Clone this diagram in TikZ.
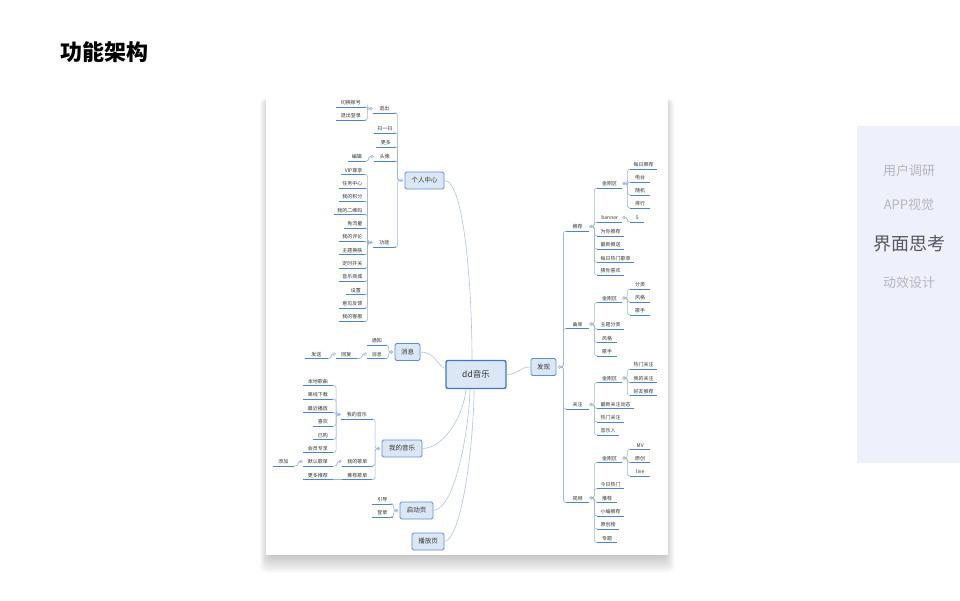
\documentclass[tikz,border=0pt]{standalone}
\usepackage{fontspec}
\setmainfont{Noto Sans CJK SC}
\definecolor{txt}{HTML}{333333}
\definecolor{ulc}{HTML}{4A84D2}
\definecolor{brc}{HTML}{9DB8DE}
\definecolor{crv}{HTML}{AFC5E4}
\definecolor{boxf}{HTML}{DCE7F5}
\definecolor{boxd}{HTML}{5C8FD6}
\definecolor{ctrd}{HTML}{3E78C9}
\definecolor{panel}{HTML}{EEF0FC}
\definecolor{navg}{HTML}{B5B5BD}
\definecolor{navd}{HTML}{56565F}
\begin{document}
\begin{tikzpicture}[x=1pt,y=-1pt,
  uline/.style={draw=ulc, line width=0.9pt},
  lf/.style={font=\fontsize{5}{6}\selectfont, text=txt, inner xsep=3.5pt, inner ysep=1.8pt,
     append after command={(\tikzlastnode.south west) edge[uline] (\tikzlastnode.south east)}},
  leafr/.style={lf, anchor=south west},
  leafl/.style={lf, anchor=south east},
  brk/.style={draw=brc, line width=0.6pt, rounded corners=2.5pt},
  crvline/.style={draw=crv, line width=0.6pt},
  hub/.style={circle, draw=brc, fill=white, line width=0.5pt, inner sep=0pt, minimum size=3pt},
  mbox/.style={draw=boxd, fill=boxf, rounded corners=1.5pt, line width=0.9pt, font=\fontsize{6.5}{7}\selectfont, text=txt, inner sep=0pt, minimum height=17pt},
  navtext/.style={font=\fontsize{13}{14}\selectfont, text=navg},
]
\useasboundingbox (0,0) rectangle (960,600);
\fill[white] (0,0) rectangle (960,600);

% title
\node[anchor=west, font=\fontsize{22}{24}\selectfont\bfseries, text=black] (title) at (57,52) {功能架构};

% right navigation panel
\fill[panel] (857,126) rectangle (960,463);
\node[navtext] (nav1) at (909,171) {用户调研};
\node[navtext] (nav2) at (909,205) {APP视觉};
\node[navtext, font=\fontsize{18}{19}\selectfont, text=navd] (nav3) at (909,244) {界面思考};
\node[navtext] (nav4) at (909,283) {动效设计};

% mind map sheet with soft shadow (stacked layers)
\foreach \i in {1,...,10}
  \fill[black, opacity=0.025, rounded corners=5pt] (270-\i,99) rectangle (664+\i,553+2*\i);
\fill[white] (266,95) rectangle (668,555);

% ---- main boxes
\node[mbox, minimum width=60pt, minimum height=28pt, line width=1.4pt, draw=ctrd, rounded corners=2pt, font=\fontsize{8.5}{9}\selectfont] (dd) at (476,374.5) {dd音乐};
\node[mbox, minimum width=39pt] (grzx) at (424.5,180.5) {个人中心};
\node[mbox, minimum width=25pt] (xx) at (407.5,352) {消息};
\node[mbox, minimum width=40pt] (wdyyb) at (402,448.5) {我的音乐};
\node[mbox, minimum width=33pt] (qdy) at (416.5,510.5) {启动页};
\node[mbox, minimum width=32pt] (bfy) at (428,541.5) {播放页};
\node[mbox, minimum width=25pt] (fx) at (543.5,367) {发现};

% ---- curves from the centre
\draw[crvline] (grzx.east) .. controls +(20,0) and +(0,-70) .. ([xshift=-4pt]dd.north);
\draw[crvline] (xx.east) .. controls +(14,0) and +(-8,-3) .. ([yshift=6pt]dd.west);
\draw[crvline] (wdyyb.east) .. controls +(22,0) and +(-2,25) .. ([xshift=-10pt]dd.south);
\draw[crvline] (qdy.east) .. controls +(22,-2) and +(-1,40) .. ([xshift=-6pt]dd.south);
\draw[crvline] (bfy.east) .. controls +(18,-3) and +(0,50) .. ([xshift=-2pt]dd.south);
\draw[crvline] (dd.east) .. controls +(12,0) and +(-12,0) .. (fx.west);

% ---- hubs of main boxes
\node[hub] (h-grzx) at ([xshift=-3pt]grzx.west) {};
\node[hub] (h-xx) at ([xshift=-3pt]xx.west) {};
\node[hub] (h-wdyyb) at ([xshift=-3pt]wdyyb.west) {};
\node[hub] (h-qdy) at ([xshift=-3pt]qdy.west) {};
\node[hub] (h-fx) at ([xshift=3pt]fx.east) {};

% ================= 个人中心
\node[leafl, minimum width=23pt] (tc) at (396,113) {退出};
\node[leafl, minimum width=21pt] (sys) at (396,133) {扫一扫};
\node[leafl, minimum width=20pt] (gd) at (396,147) {更多};
\node[leafl, minimum width=22pt] (tx) at (396,161) {头像};
\node[leafl, minimum width=23pt] (gn) at (396,247) {功能};
\foreach \c in {tc,sys,gd,tx,gn}
  \draw[brk] (h-grzx) -- ++(-4,0) |- (\c.south east);

\node[hub] (h-tc) at ([xshift=-1.5pt,yshift=4.5pt]tc.south west) {};
\node[hub] (h-tx) at ([xshift=-1.5pt,yshift=4.5pt]tx.south west) {};
\node[hub] (h-gn) at ([xshift=-1.5pt,yshift=4.5pt]gn.south west) {};

\node[leafl, minimum width=30pt] (qhzh) at (366,107) {切换账号};
\node[leafl, minimum width=30pt] (tcdl) at (366,120) {退出登录};
\foreach \c in {qhzh,tcdl}
  \draw[brk] (h-tc) -- ++(-3.5,0) |- (\c.south east);

\node[leafl, minimum width=18pt] (bj) at (366,161) {编辑};
\draw[brk] (h-tx) -- ++(-3.5,0) |- (bj.south east);

\node[leafl] (g1) at (366,174.5) {VIP尊享};
\node[leafl] (g2) at (366,188) {任务中心};
\node[leafl] (g3) at (366,201.3) {我的积分};
\node[leafl] (g4) at (366,214.6) {我的二维码};
\node[leafl] (g5) at (366,228) {免流量};
\node[leafl] (g6) at (366,241.3) {我的评论};
\node[leafl] (g7) at (366,254.6) {主题换肤};
\node[leafl] (g8) at (366,268) {定时开关};
\node[leafl] (g9) at (366,281.3) {音乐商城};
\node[leafl, minimum width=20pt] (g10) at (366,294.7) {设置};
\node[leafl] (g11) at (366,308) {意见反馈};
\node[leafl] (g12) at (366,321.4) {我的客服};
\foreach \c in {g1,g2,g3,g4,g5,g6,g7,g8,g9,g10,g11,g12}
  \draw[brk] (h-gn) -- ++(-3.5,0) |- (\c.south east);

% ================= 消息
\node[leafl, minimum width=20pt] (tz) at (387,345) {通知};
\node[leafl, minimum width=20pt] (xx2) at (387,358.5) {消息};
\foreach \c in {tz,xx2}
  \draw[brk] (h-xx) -- ++(-3,0) |- (\c.south east);
\node[hub] (h-xx2) at ([xshift=-1.5pt,yshift=4.5pt]xx2.south west) {};
\node[leafl, minimum width=21pt] (hf) at (357,358.5) {回复};
\draw[brk] (h-xx2) -- ++(-3,0) |- (hf.south east);
\node[hub] (h-hf) at ([xshift=-1.5pt,yshift=4.5pt]hf.south west) {};
\node[leafl, minimum width=23pt] (fs) at (328,358.5) {发送};
\draw[brk] (h-hf) -- ++(-3,0) |- (fs.south east);

% ================= 我的音乐
\node[leafl, minimum width=32pt] (wdyy) at (373,419) {我的音乐};
\node[leafl, minimum width=31pt] (wdgd) at (373,466) {我的歌单};
\node[leafl, minimum width=31pt] (tjgd) at (373,479.5) {推荐歌单};
\foreach \c in {wdyy,wdgd,tjgd}
  \draw[brk] (h-wdyyb) -- ++(-3.5,0) |- (\c.south east);

\node[hub] (h-wdyy) at ([xshift=-1.5pt,yshift=4.5pt]wdyy.south west) {};
\node[leafl, minimum width=30pt] (m1) at (333,385.5) {本地歌曲};
\node[leafl, minimum width=30pt] (m2) at (333,399) {离线下载};
\node[leafl, minimum width=30pt] (m3) at (333,412.5) {最近播放};
\node[leafl, minimum width=20pt] (m4) at (333,426) {喜欢};
\node[leafl, minimum width=20pt] (m5) at (333,439.5) {已购};
\node[leafl, minimum width=30pt] (m6) at (333,452.5) {会员专享};
\foreach \c in {m1,m2,m3,m4,m5,m6}
  \draw[brk] (h-wdyy) -- ++(-3,0) |- (\c.south east);

\node[hub] (h-wdgd) at ([xshift=-1.5pt,yshift=4.5pt]wdgd.south west) {};
\node[leafl, minimum width=30pt] (mrgd) at (333,466) {默认歌单};
\draw[brk] (h-wdgd) -- ++(-3,0) |- (mrgd.south east);
\node[hub] (h-mrgd) at ([xshift=-1.5pt,yshift=4.5pt]mrgd.south west) {};
\node[leafl, minimum width=21pt] (tianjia) at (294,466) {添加};
\draw[brk] (h-mrgd) -- ++(-3,0) |- (tianjia.south east);

\node[leafl, minimum width=30pt] (gdtj) at (333,479.5) {更多推荐};
\draw[brk] (tjgd.south west) -- (gdtj.south east);

% ================= 启动页
\node[leafl, minimum width=21pt] (yd) at (393,504) {引导};
\node[leafl, minimum width=21pt] (dl) at (393,517) {登录};
\foreach \c in {yd,dl}
  \draw[brk] (h-qdy) -- ++(-3,0) |- (\c.south east);

% ================= 发现
\node[leafr, minimum width=23pt] (tj) at (566,231) {推荐};
\node[leafr, minimum width=23pt] (qk) at (566,328.5) {曲库};
\node[leafr, minimum width=23pt] (gz) at (566,409) {关注};
\node[leafr, minimum width=23pt] (sp) at (566,502.5) {视频};
\foreach \c in {tj,qk,gz,sp}
  \draw[brk] (h-fx) -- ++(4,0) |- (\c.south west);

\node[hub] (h-tj) at ([xshift=1.5pt,yshift=4.5pt]tj.south east) {};
\node[hub] (h-qk) at ([xshift=1.5pt,yshift=4.5pt]qk.south east) {};
\node[hub] (h-gz) at ([xshift=1.5pt,yshift=4.5pt]gz.south east) {};
\node[hub] (h-sp) at ([xshift=1.5pt,yshift=4.5pt]sp.south east) {};

% 推荐
\node[leafr, minimum width=25pt] (jgq1) at (597,188) {金刚区};
\node[leafr, minimum width=25pt] (bnr) at (597,222) {banner};
\node[leafr] (wntj) at (597,236) {为你推荐};
\node[leafr] (zxts) at (597,249) {最新推送};
\node[leafr] (mrrm) at (597,262.5) {每日热门歌单};
\node[leafr] (cnxh) at (597,275) {猜你喜欢};
\foreach \c in {jgq1,bnr,wntj,zxts,mrrm,cnxh}
  \draw[brk] (h-tj) -- ++(3.5,0) |- (\c.south west);

\node[hub] (h-jgq1) at ([xshift=1.5pt,yshift=4.5pt]jgq1.south east) {};
\node[leafr] (r1) at (630,169) {每日推荐};
\node[leafr, minimum width=20pt] (r2) at (630,182) {电台};
\node[leafr, minimum width=20pt] (r3) at (630,195) {随机};
\node[leafr, minimum width=20pt] (r4) at (630,208) {排行};
\foreach \c in {r1,r2,r3,r4}
  \draw[brk] (h-jgq1) -- ++(3.5,0) |- (\c.south west);

\node[hub] (h-bnr) at ([xshift=1.5pt,yshift=4.5pt]bnr.south east) {};
\node[leafr, minimum width=14pt] (n5) at (630,222) {5};
\draw[brk] (h-bnr) -- ++(3.5,0) |- (n5.south west);

% 曲库
\node[leafr, minimum width=25pt] (jgq2) at (597,302.5) {金刚区};
\node[leafr] (ztfl) at (597,329) {主题分类};
\node[leafr, minimum width=20pt] (fg2) at (597,342.5) {风格};
\node[leafr, minimum width=20pt] (gs2) at (597,356) {歌手};
\foreach \c in {jgq2,ztfl,fg2,gs2}
  \draw[brk] (h-qk) -- ++(3.5,0) |- (\c.south west);
\node[hub] (h-jgq2) at ([xshift=1.5pt,yshift=4.5pt]jgq2.south east) {};
\node[leafr, minimum width=20pt] (fl) at (630,289) {分类};
\node[leafr, minimum width=20pt] (fg1) at (630,302) {风格};
\node[leafr, minimum width=20pt] (gs1) at (630,315) {歌手};
\foreach \c in {fl,fg1,gs1}
  \draw[brk] (h-jgq2) -- ++(3.5,0) |- (\c.south west);

% 关注
\node[leafr, minimum width=25pt] (jgq3) at (597,382.5) {金刚区};
\node[leafr] (zxgz) at (597,408.5) {最新关注动态};
\node[leafr] (rmgz2) at (597,422) {热门关注};
\node[leafr] (yyr) at (597,435) {音乐人};
\foreach \c in {jgq3,zxgz,rmgz2,yyr}
  \draw[brk] (h-gz) -- ++(3.5,0) |- (\c.south west);
\node[hub] (h-jgq3) at ([xshift=1.5pt,yshift=4.5pt]jgq3.south east) {};
\node[leafr] (rmgz1) at (630,369) {热门关注};
\node[leafr] (wdgz) at (630,382.5) {我的关注};
\node[leafr] (hytj) at (630,395.5) {好友推荐};
\foreach \c in {rmgz1,wdgz,hytj}
  \draw[brk] (h-jgq3) -- ++(3.5,0) |- (\c.south west);

% 视频
\node[leafr, minimum width=25pt] (jgq4) at (597,462.5) {金刚区};
\node[leafr] (jrrm) at (597,488.5) {今日热门};
\node[leafr, minimum width=20pt] (tj3) at (597,502.5) {推荐};
\node[leafr] (xbtj) at (597,516) {小编推荐};
\node[leafr] (ycb) at (597,529) {原创榜};
\node[leafr, minimum width=20pt] (zt) at (597,542.5) {专题};
\foreach \c in {jgq4,jrrm,tj3,xbtj,ycb,zt}
  \draw[brk] (h-sp) -- ++(3.5,0) |- (\c.south west);
\node[hub] (h-jgq4) at ([xshift=1.5pt,yshift=4.5pt]jgq4.south east) {};
\node[leafr, minimum width=20pt] (mv) at (630,449) {MV};
\node[leafr, minimum width=20pt] (yc) at (630,462.5) {原创};
\node[leafr, minimum width=20pt] (live) at (630,476) {live};
\foreach \c in {mv,yc,live}
  \draw[brk] (h-jgq4) -- ++(3.5,0) |- (\c.south west);
\end{tikzpicture}
\end{document}
